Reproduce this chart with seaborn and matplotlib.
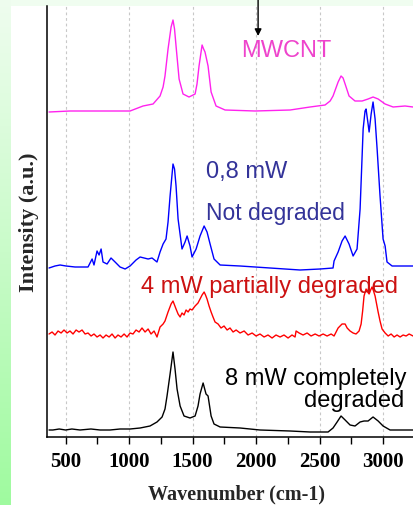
import numpy as np
import pandas as pd
import matplotlib.pyplot as plt
import matplotlib.ticker as ticker
from matplotlib.colors import LinearSegmentedColormap
from matplotlib.patches import Rectangle
import seaborn as sns

# Raman spectra, wavenumber (cm-1) vs intensity (a.u., already offset)
mwcnt_wn = [370, 535, 772, 1008, 1110, 1189, 1244, 1268, 1283, 1307,
            1331, 1346, 1358, 1370, 1394, 1425, 1472, 1520, 1535, 1551,
            1575, 1587, 1598, 1622, 1646, 1685, 1756, 1992, 2268, 2425,
            2543, 2583, 2606, 2646, 2669, 2685, 2701, 2732, 2779, 2835,
            2882, 2921, 2961, 3016, 3079, 3173, 3236]
mwcnt_int = [325, 326, 326, 326, 331, 333, 341, 350, 361, 388,
             410, 417, 408, 391, 358, 343, 340, 343, 353, 371,
             392, 388, 385, 371, 345, 331, 327, 326, 327, 330,
             332, 336, 341, 355, 361, 359, 353, 341, 336, 336,
             338, 340, 338, 333, 330, 331, 330]

blue_wn = [370, 417, 457, 504, 575, 677, 709, 724, 748, 764,
           780, 795, 827, 858, 890, 929, 969, 1008, 1055, 1087,
           1150, 1181, 1220, 1244, 1268, 1291, 1307, 1323, 1346, 1358,
           1370, 1386, 1417, 1441, 1457, 1480, 1496, 1528, 1559, 1591,
           1614, 1638, 1669, 1717, 1874, 2110, 2346, 2504, 2606, 2614,
           2646, 2677, 2701, 2732, 2764, 2795, 2819, 2843, 2858, 2866,
           2882, 2890, 2906, 2921, 2937, 2953, 2976, 3000, 3016, 3031,
           3071, 3236]
blue_int = [169, 171, 172, 171, 170, 170, 178, 172, 186, 182,
            188, 175, 173, 179, 175, 170, 168, 171, 177, 180,
            178, 179, 175, 185, 193, 198, 215, 241, 273, 268,
            251, 218, 188, 195, 201, 191, 180, 188, 201, 211,
            205, 193, 178, 172, 171, 169, 167, 168, 169, 176,
            185, 196, 201, 193, 181, 188, 228, 308, 326, 328,
            313, 305, 323, 335, 318, 288, 241, 198, 191, 175,
            171, 171]

red_wn = [370, 394, 417, 441, 465, 488, 512, 535, 559, 583,
          606, 630, 654, 677, 701, 724, 748, 772, 795, 819,
          843, 866, 890, 913, 937, 961, 984, 1008, 1031, 1055,
          1079, 1102, 1126, 1150, 1173, 1197, 1220, 1244, 1268, 1283,
          1299, 1307, 1331, 1346, 1358, 1370, 1386, 1402, 1417, 1433,
          1449, 1465, 1480, 1496, 1520, 1543, 1559, 1575, 1591, 1602,
          1614, 1630, 1646, 1661, 1677, 1701, 1724, 1748, 1772, 1795,
          1819, 1843, 1874, 1906, 1937, 1969, 2000, 2031, 2063, 2094,
          2126, 2157, 2189, 2220, 2252, 2283, 2307, 2315, 2339, 2370,
          2402, 2433, 2465, 2496, 2528, 2559, 2591, 2614, 2630, 2646,
          2661, 2677, 2701, 2717, 2740, 2764, 2787, 2811, 2827, 2839,
          2850, 2866, 2878, 2890, 2902, 2913, 2925, 2937, 2949, 2961,
          2976, 2992, 3016, 3040, 3063, 3087, 3110, 3134, 3158, 3181,
          3205, 3236]
red_int = [103, 105, 102, 106, 104, 107, 104, 106, 103, 107,
           105, 107, 103, 104, 101, 103, 100, 102, 99, 102,
           100, 103, 99, 102, 100, 103, 100, 104, 103, 107,
           105, 109, 105, 108, 103, 106, 100, 110, 113, 116,
           122, 125, 133, 136, 132, 128, 123, 120, 124, 122,
           127, 125, 128, 127, 131, 134, 138, 142, 145, 142,
           138, 131, 125, 120, 115, 113, 109, 111, 107, 109,
           105, 107, 104, 106, 102, 104, 101, 103, 100, 102,
           99, 102, 100, 102, 99, 102, 100, 106, 104, 102,
           104, 101, 103, 101, 103, 101, 103, 101, 105, 109,
           111, 113, 113, 109, 106, 104, 103, 106, 113, 126,
           141, 148, 145, 143, 147, 150, 146, 141, 133, 125,
           116, 108, 104, 101, 103, 100, 102, 100, 102, 101,
           103, 101]

black_wn = [370, 400, 450, 500, 550, 614, 700, 772, 850, 929,
            1008, 1087, 1165, 1220, 1260, 1283, 1299, 1323, 1346, 1362,
            1378, 1402, 1433, 1480, 1520, 1543, 1559, 1583, 1606, 1622,
            1646, 1669, 1717, 1874, 2031, 2268, 2425, 2567, 2606, 2638,
            2669, 2701, 2740, 2779, 2819, 2850, 2882, 2921, 2961, 3000,
            3055, 3236]
black_int = [7, 7, 8, 7, 8, 7, 8, 7, 7, 8,
             8, 9, 11, 15, 20, 28, 41, 63, 85, 68,
             48, 31, 21, 19, 21, 31, 43, 54, 43, 41,
             21, 13, 10, 9, 7, 6, 5, 5, 9, 15,
             21, 17, 12, 11, 15, 16, 16, 20, 16, 11,
             7, 7]

major_ticks = [500, 1000, 1500, 2000, 2500, 3000]

sns.set_theme(style='ticks')
plt.rcParams['font.family'] = ['Liberation Sans', 'DejaVu Sans']

W, H = 413, 506
fig = plt.figure(figsize=(W / 100, H / 100), dpi=100)
fig.patch.set_facecolor('#f0fdf0')
fig.patches.append(Rectangle((11 / W, 0), 1, 499 / H, transform=fig.transFigure,
                             facecolor='white', edgecolor='none', zorder=-2))

# green gradient strip on the left
strip = fig.add_axes([0, 0, 11 / W, 1])
cmap = LinearSegmentedColormap.from_list('g', ['#9ffa9f', '#c9fbc9', '#effdef'])
strip.imshow(np.linspace(0, 1, 256).reshape(-1, 1), cmap=cmap, aspect='auto',
             origin='lower', extent=[0, 1, 0, 1])
strip.set_axis_off()

ax = fig.add_axes([47 / W, 68 / H, 378 / W, 431 / H])
ax.set_facecolor('none')

sns.lineplot(x=mwcnt_wn, y=mwcnt_int, ax=ax, color='#ff22ee', linewidth=1.0, estimator=None)
sns.lineplot(x=blue_wn, y=blue_int, ax=ax, color='#0000ff', linewidth=1.0, estimator=None)
sns.lineplot(x=red_wn, y=red_int, ax=ax, color='#ff0000', linewidth=1.0, estimator=None)
sns.lineplot(x=black_wn, y=black_int, ax=ax, color='black', linewidth=1.0, estimator=None)

ax.set_xlim(354, 3330)
ax.set_ylim(0, 431)
ax.set_xticks(major_ticks)
ax.xaxis.set_minor_locator(ticker.MultipleLocator(250))
ax.set_yticks([])
ax.tick_params(axis='x', which='both', direction='out', length=5, width=1,
               labelsize=15, pad=5, colors='black')
for lbl in ax.get_xticklabels():
    lbl.set_fontfamily('Liberation Serif')
    lbl.set_fontweight('bold')

ax.xaxis.grid(True, which='major', color='#c8c8c8', linestyle=(0, (2.5, 2.5)), linewidth=0.8)
ax.set_axisbelow(True)
for side in ['top', 'right']:
    ax.spines[side].set_visible(False)
for side in ['left', 'bottom']:
    ax.spines[side].set_color('black')
    ax.spines[side].set_linewidth(1.1)

ax.set_xlabel('Wavenumber (cm-1)', fontfamily='Liberation Serif', fontweight='bold',
              fontsize=14.5, labelpad=9)
ax.set_ylabel('Intensity (a.u.)', fontfamily='Liberation Serif', fontweight='bold',
              fontsize=16, labelpad=6)

ax.text(1882, 381, 'MWCNT', color='#ee44cc', fontsize=17, va='baseline')
ax.text(1607, 260, '0,8 mW', color='#333399', fontsize=17, va='baseline')
ax.text(1607, 218, 'Not degraded', color='#333399', fontsize=16.5, va='baseline')
ax.text(1095, 145, '4 mW partially degraded', color='#cc1111', fontsize=17, va='baseline')
ax.text(3181, 53, '8 mW completely', color='black', fontsize=17, va='baseline', ha='right')
ax.text(3165, 31, 'degraded', color='black', fontsize=17, va='baseline', ha='right')

ax.annotate('', xy=(2016, 401), xytext=(2016, 445), annotation_clip=False,
            arrowprops=dict(arrowstyle='-|>', color='black', lw=1.0,
                            mutation_scale=10, shrinkA=0, shrinkB=0))

fig.savefig('out.png', dpi=100)
